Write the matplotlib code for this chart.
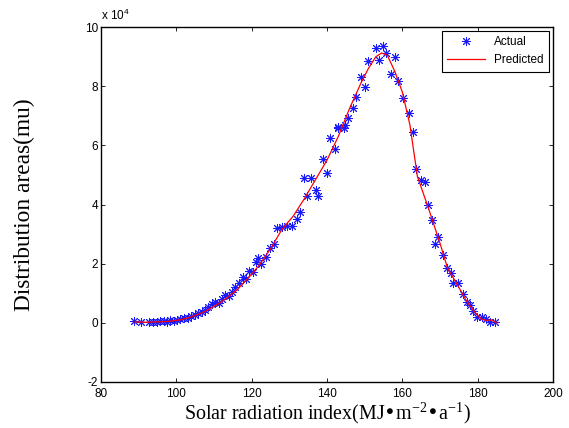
import matplotlib
matplotlib.use("Agg")
import matplotlib.pyplot as plt
import numpy as np

# Actual observations (x: solar radiation index, y: distribution area in 1e4 mu)
actual_x = [88.8, 90.6, 92.8, 93.9, 94.8, 95.7, 96.6, 97.5, 98.4, 99.3, 100.2, 101.1,
            102.0, 103.0, 104.0, 104.9, 105.8, 106.7, 107.6, 108.5, 109.4, 110.3, 111.2,
            112.1, 113.0, 113.9, 114.8, 115.7, 116.6, 117.6, 118.5, 119.4, 120.3, 121.2,
            121.7, 122.6, 123.7, 124.8, 125.9, 126.8, 128.1, 129.3, 130.8, 132.1, 132.8,
            133.9, 134.8, 135.8, 137.2, 137.7, 139.0, 140.1, 140.8, 142.1, 142.8, 143.0,
            144.5, 144.8, 145.7, 147.0, 147.8, 148.9, 150.0, 150.9, 152.9, 153.8, 154.9,
            155.7, 156.9, 158.0, 158.8, 160.3, 161.9, 162.8, 163.7, 164.9, 166.0, 166.9,
            167.8, 168.7, 169.5, 170.8, 171.9, 173.0, 173.5, 174.8, 176.1, 177.1, 178.0,
            178.8, 179.9, 181.2, 182.3, 183.4, 184.6]
actual_y = [0.05, 0.03, 0.02, 0.04, 0.02, 0.05, 0.06, 0.04, 0.08, 0.07, 0.10, 0.12,
            0.15, 0.18, 0.22, 0.28, 0.32, 0.38, 0.45, 0.55, 0.65, 0.72, 0.68,
            0.82, 0.95, 0.92, 1.05, 1.20, 1.35, 1.55, 1.48, 1.75, 1.72, 2.05,
            2.18, 2.00, 2.23, 2.52, 2.66, 3.19, 3.23, 3.27, 3.27, 3.50, 3.76,
            4.88, 4.29, 4.88, 4.49, 4.29, 5.53, 5.07, 6.24, 5.86, 6.57, 6.61,
            6.57, 6.69, 6.91, 7.25, 7.64, 8.32, 7.98, 8.86, 9.28, 8.88, 9.36,
            9.11, 8.41, 9.00, 8.17, 7.59, 7.08, 6.46, 5.19, 4.83, 4.77, 3.98,
            3.48, 2.66, 2.89, 2.29, 1.84, 1.67, 1.34, 1.36, 0.97, 0.71, 0.60,
            0.41, 0.21, 0.21, 0.12, 0.04, 0.04]

# Predicted curve
pred_x = [89, 92, 95, 98, 101, 104, 107, 110, 113, 116, 119, 122, 125, 128, 131, 134,
          137, 140, 143, 146, 149, 151, 153, 154.5, 156, 158, 160, 162, 164, 167, 170,
          172, 175, 177, 179, 181, 182.5, 183.7, 185]
pred_y = [0.03, 0.02, 0.03, 0.05, 0.10, 0.20, 0.35, 0.55, 0.80, 1.10, 1.50, 1.95, 2.50,
          3.15, 3.60, 4.20, 4.85, 5.50, 6.30, 7.25, 8.10, 8.60, 9.00, 9.12, 9.05, 8.50,
          7.80, 6.70, 4.95, 3.85, 2.69, 1.85, 1.20, 0.75, 0.40, 0.12, 0.08, 0.10, 0.00]

xticks = [80, 100, 120, 140, 160, 180, 200]
yticks = [-2, 0, 2, 4, 6, 8, 10]

fig = plt.figure(figsize=(5.69, 4.28), dpi=100)
ax = fig.add_axes([101/569, 1 - 382/428, (553-101)/569, (382-27)/428])

ax.plot(actual_x, actual_y, linestyle='none', marker=(8, 2, 0), markersize=6.5,
        markeredgewidth=0.7, color='#1a1aff', label='Actual')
ax.plot(pred_x, pred_y, color='#ff0000', linewidth=0.9, label='Predicted')

ax.set_xlim(80, 200)
ax.set_ylim(-2, 10)
ax.set_xticks(xticks)
ax.set_yticks(yticks)
ax.set_xticklabels([str(t) for t in xticks], fontfamily='Liberation Sans', fontsize=8.5)
ax.set_yticklabels([str(t) for t in yticks], fontfamily='Liberation Sans', fontsize=8.5)
ax.tick_params(direction='in', top=True, right=True, length=3, width=0.6)
ax.tick_params(axis='x', pad=4)
ax.tick_params(axis='y', pad=2)
for s in ax.spines.values():
    s.set_linewidth(1.0)

ax.text(0.0, 1.012, r'x 10$\mathregular{^4}$', transform=ax.transAxes,
        fontfamily='Liberation Sans', fontsize=8.5, ha='left', va='bottom')

ax.set_xlabel(r'Solar radiation index(MJ•m$\mathregular{^{-2}}$•a$\mathregular{^{-1}}$)',
              fontfamily='Liberation Serif', fontsize=14.4, labelpad=1)
ax.set_ylabel('Distribution areas(mu)', fontfamily='Liberation Serif', fontsize=16.8)
ax.yaxis.set_label_coords(-(101 - 35) / (553 - 101), 0.5)

leg = ax.legend(loc='upper right', prop={'family': 'Liberation Sans', 'size': 8.5},
                fancybox=False, edgecolor='black', framealpha=1, borderpad=0.45,
                handlelength=3.2, handletextpad=0.8, borderaxespad=0.35)
leg.get_frame().set_linewidth(0.8)

fig.savefig('out.png', dpi=100)
